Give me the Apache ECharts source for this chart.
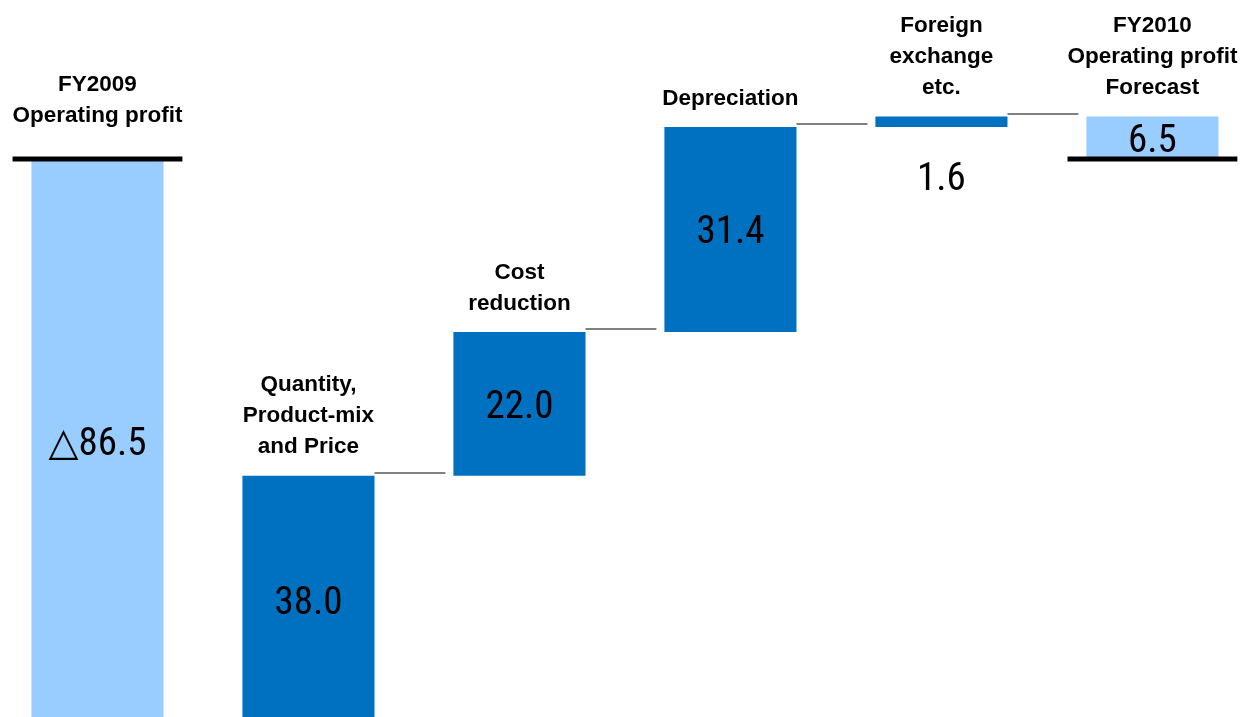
<!DOCTYPE html>
<html>
<head>
<meta charset="utf-8">
<script src="https://cdn.jsdelivr.net/npm/echarts@6/dist/echarts.min.js"></script>
<style>
  html, body { margin: 0; padding: 0; background: #fff; }
  #chart { width: 1244px; height: 717px; }
</style>
</head>
<body>
<div id="chart"></div>
<script>
// Operating profit bridge, FY2009 -> FY2010 forecast (billion yen)
const categories = [
  'FY2009\nOperating profit',
  'Quantity,\nProduct-mix\nand Price',
  'Cost\nreduction',
  'Depreciation',
  'Foreign\nexchange\netc.',
  'FY2010\nOperating profit\nForecast'
];
const values = [-86.5, 38.0, 22.0, 31.4, 1.6, 6.5];
const kinds = ['total', 'delta', 'delta', 'delta', 'delta', 'total'];
const valueLabels = ['△86.5', '38.0', '22.0', '31.4', '1.6', '6.5'];

const TOTAL_COLOR = '#99CCFF';
const DELTA_COLOR = '#0070C0';
const TEXT_FONT = "'Liberation Sans', 'Noto Sans CJK JP', sans-serif";
const NUM_FONT = "'Liberation Sans Narrow', 'Roboto Condensed', Roboto, 'DejaVu Sans', sans-serif";

// running start/end of every bar
const spans = [];
let running = 0;
values.forEach((v, i) => {
  if (kinds[i] === 'total') {
    spans.push([0, v]);
    running = v;
  } else {
    spans.push([running, running + v]);
    running += v;
  }
});

const barData = spans.map((s, i) => [i, s[0], s[1]]);
const linkData = spans.slice(0, -1).map((s, i) => [i, s[1]]);
const baseData = kinds.map((k, i) => k === 'total' ? [i, 0] : null).filter(Boolean);

const BAR_FRACTION = 0.626;   // bar width as a share of one category slot

const chart = echarts.init(document.getElementById('chart'));

chart.setOption({
  animation: false,
  grid: { left: 0, right: 0, top: 0, bottom: 0 },
  xAxis: {
    // category index on a value axis, so the slots can run past the canvas edges
    type: 'value',
    min: -0.462,
    max: 5.434,
    show: false
  },
  yAxis: {
    type: 'value',
    min: -85.45,
    max: 24.35,
    show: false
  },
  series: [
    {
      // connectors between neighbouring bars
      type: 'custom',
      data: linkData,
      z: 1,
      renderItem: function (params, api) {
        const i = api.value(0);
        const level = api.value(1);
        const bw = api.size([1, 0])[0] * BAR_FRACTION;
        const p1 = api.coord([i, level]);
        const p2 = api.coord([i + 1, level]);
        const y = Math.round(p1[1]) - 3;
        return {
          type: 'line',
          shape: { x1: p1[0] + bw / 2, y1: y, x2: p2[0] - bw / 2 - 8, y2: y },
          style: { stroke: '#808080', lineWidth: 2 }
        };
      }
    },
    {
      // bars with their value and category labels
      type: 'custom',
      data: barData,
      z: 2,
      clip: false,
      renderItem: function (params, api) {
        const i = api.value(0);
        const a = api.coord([i, api.value(1)]);
        const b = api.coord([i, api.value(2)]);
        const bw = api.size([1, 0])[0] * BAR_FRACTION;
        const top = Math.min(a[1], b[1]);
        const bottom = Math.max(a[1], b[1]);
        const h = bottom - top;
        const isTotal = kinds[i] === 'total';
        const children = [{
          type: 'rect',
          shape: { x: a[0] - bw / 2, y: top, width: bw, height: h },
          style: { fill: isTotal ? TOTAL_COLOR : DELTA_COLOR }
        }];
        // value label: centred in the bar, or under it if the bar is thin
        const inside = h > 30;
        children.push({
          type: 'text',
          style: {
            text: valueLabels[i],
            x: a[0],
            y: (inside ? (top + bottom) / 2 : bottom + 49) + 4,
            align: 'center',
            verticalAlign: 'middle',
            fontSize: 39,
            fontFamily: NUM_FONT,
            fill: '#000'
          },
          z2: 5
        });
        // category label above the bar (above the zero line for a negative total)
        const gap = (isTotal && values[i] < 0) ? 28 : 13;
        children.push({
          type: 'text',
          style: {
            text: categories[i],
            x: a[0],
            y: top - gap,
            align: 'center',
            verticalAlign: 'bottom',
            fontSize: 22.5,
            fontWeight: 'bold',
            lineHeight: 31,
            fontFamily: TEXT_FONT,
            fill: '#000'
          },
          z2: 5
        });
        return { type: 'group', children: children };
      }
    },
    {
      // zero lines under the total bars
      type: 'custom',
      data: baseData,
      z: 3,
      renderItem: function (params, api) {
        const i = api.value(0);
        const p = api.coord([i, api.value(1)]);
        const w = api.size([1, 0])[0] * 0.805;
        return {
          type: 'rect',
          shape: { x: p[0] - w / 2, y: p[1] - 2.5, width: w, height: 5 },
          style: { fill: '#000' }
        };
      }
    }
  ]
});
</script>
</body>
</html>
